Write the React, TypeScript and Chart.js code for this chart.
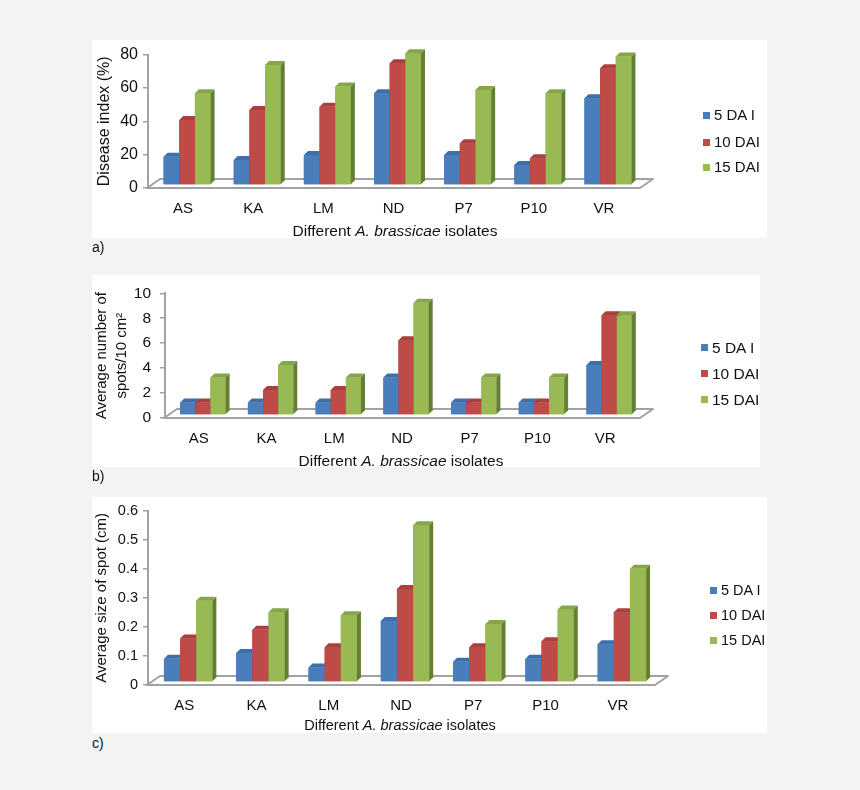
import React, { useEffect, useRef } from "react";
import { Chart, registerables } from "chart.js";

Chart.register(...registerables);

const FONT = "'Liberation Sans', Arial, Helvetica, sans-serif";
Chart.defaults.font.family = FONT;

// ---------- data ----------
const isolates = ["AS", "KA", "LM", "ND", "P7", "P10", "VR"];
const seriesLabels = ["5 DA I", "10 DAI", "15 DAI"];

const diseaseIndex5 = [17, 15, 18, 55, 18, 12, 52];
const diseaseIndex10 = [39, 45, 47, 73, 25, 16, 70];
const diseaseIndex15 = [55, 72, 59, 79, 57, 55, 77];

const spots5 = [1, 1, 1, 3, 1, 1, 4];
const spots10 = [1, 2, 2, 6, 1, 1, 8];
const spots15 = [3, 4, 3, 9, 3, 3, 8];

const spotSize5 = [0.08, 0.1, 0.05, 0.21, 0.07, 0.08, 0.13];
const spotSize10 = [0.15, 0.18, 0.12, 0.32, 0.12, 0.14, 0.24];
const spotSize15 = [0.28, 0.24, 0.23, 0.54, 0.2, 0.25, 0.39];

// ---------- styles ----------
const frontColors = ["#4a7ebb", "#be4b48", "#98b954"];
const topColors = ["#3f6ea8", "#a8403d", "#86a64a"];
const sideColors = ["#2f5487", "#80302e", "#637f33"];
const PAGE_BG = "#f3f3f3";
const AXIS_GRAY = "#a2a2a2";
const TEXT = "#111";

const BAR_DX = 4;
const BAR_DY = 4;
const SHIFT_X = 4;
const SHIFT_Y = -3;
const FLOOR_DX = 13;
const FLOOR_DY = 9;

const bar3d = {
  id: "bar3d",
  beforeDatasetsDraw(chart: any) {
    const { ctx, chartArea } = chart;
    const { left, right, bottom } = chartArea;
    ctx.save();
    ctx.beginPath();
    ctx.moveTo(left - 1, bottom);
    ctx.lineTo(right + 1, bottom);
    ctx.lineTo(right + 1 + FLOOR_DX, bottom - FLOOR_DY);
    ctx.lineTo(left - 1 + FLOOR_DX, bottom - FLOOR_DY);
    ctx.closePath();
    ctx.strokeStyle = AXIS_GRAY;
    ctx.lineWidth = 2;
    ctx.lineJoin = "round";
    ctx.stroke();
    ctx.restore();
  },
  beforeDatasetDraw(chart: any) {
    chart.ctx.save();
    chart.ctx.translate(SHIFT_X, SHIFT_Y);
  },
  afterDatasetDraw(chart: any) {
    chart.ctx.restore();
  },
  afterDatasetsDraw(chart: any) {
    const ctx = chart.ctx;
    ctx.save();
    ctx.translate(SHIFT_X, SHIFT_Y);
    const n = isolates.length;
    for (let j = 0; j < n; j++) {
      chart.data.datasets.forEach((ds: any, i: number) => {
        const meta = chart.getDatasetMeta(i);
        const el: any = meta.data[j];
        if (!el) return;
        const { x, y, base, width } = el.getProps(["x", "y", "base", "width"], true);
        const x0 = x - width / 2;
        const x1 = x + width / 2;
        ctx.fillStyle = ds.backgroundColor;
        ctx.fillRect(x0, y, width, base - y);
        ctx.beginPath();
        ctx.moveTo(x0, y);
        ctx.lineTo(x0 + BAR_DX, y - BAR_DY);
        ctx.lineTo(x1 + BAR_DX, y - BAR_DY);
        ctx.lineTo(x1, y);
        ctx.closePath();
        ctx.fillStyle = ds.topColor;
        ctx.fill();
        ctx.beginPath();
        ctx.moveTo(x1, y);
        ctx.lineTo(x1 + BAR_DX, y - BAR_DY);
        ctx.lineTo(x1 + BAR_DX, base - BAR_DY);
        ctx.lineTo(x1, base);
        ctx.closePath();
        ctx.fillStyle = ds.sideColor;
        ctx.fill();
      });
    }
    ctx.restore();
  },
};

type Spec = {
  left: number; top: number; width: number; height: number;
  padTop: number; padRight: number; yWidth: number; xHeight: number;
  yMax: number; yStep: number; yTickPad: number;
  yTitle: string | string[]; yTitlePad: number; yTitleLH: number; yTitleSize: number;
  tickSize: number; catSize: number; xTitleSize: number; legendSize: number;
  series: number[][];
  legendX: number; legendRows: number[];
  titleCx: number; titleCy: number;
  tag: string; tagY: number;
};

const panels: Spec[] = [
  {
    left: 92, top: 40, width: 675, height: 198,
    padTop: 11, padRight: 128, yWidth: 56, xHeight: 50,
    yMax: 80, yStep: 20, yTickPad: 5,
    yTitle: "Disease index (%)", yTitlePad: 3, yTitleLH: 1.2, yTitleSize: 16,
    tickSize: 16, catSize: 15, xTitleSize: 15.5, legendSize: 15,
    series: [diseaseIndex5, diseaseIndex10, diseaseIndex15],
    legendX: 703, legendRows: [115, 142, 167],
    titleCx: 395, titleCy: 231, tag: "a)", tagY: 247,
  },
  {
    left: 92, top: 275, width: 668, height: 192,
    padTop: 13, padRight: 121, yWidth: 73, xHeight: 49,
    yMax: 10, yStep: 2, yTickPad: 9,
    yTitle: ["Average number of", "spots/10 cm\u00b2"], yTitlePad: 0, yTitleLH: 20 / 15, yTitleSize: 15,
    tickSize: 15.5, catSize: 15, xTitleSize: 15.5, legendSize: 15.5,
    series: [spots5, spots10, spots15],
    legendX: 701, legendRows: [348, 374, 400],
    titleCx: 401, titleCy: 461, tag: "b)", tagY: 476,
  },
  {
    left: 92, top: 497, width: 675, height: 236,
    padTop: 11, padRight: 113, yWidth: 56, xHeight: 48,
    yMax: 0.6, yStep: 0.1, yTickPad: 5,
    yTitle: "Average size of spot (cm)", yTitlePad: 1, yTitleLH: 1.2, yTitleSize: 15,
    tickSize: 14.5, catSize: 15, xTitleSize: 14.5, legendSize: 14.5,
    series: [spotSize5, spotSize10, spotSize15],
    legendX: 710, legendRows: [590, 615, 640],
    titleCx: 400, titleCy: 725, tag: "c)", tagY: 743,
  },
];

function Panel({ spec }: { spec: Spec }) {
  const ref = useRef<HTMLCanvasElement | null>(null);
  useEffect(() => {
    const chart = new Chart(ref.current as HTMLCanvasElement, {
      type: "bar",
      data: {
        labels: isolates,
        datasets: spec.series.map((values, i) => ({
          label: seriesLabels[i],
          data: values,
          backgroundColor: frontColors[i],
          topColor: topColors[i],
          sideColor: sideColors[i],
          borderWidth: 0,
          categoryPercentage: 0.67,
          barPercentage: 1.0,
        })) as any,
      },
      options: {
        responsive: false,
        animation: false,
        events: [],
        layout: { padding: { top: spec.padTop, right: spec.padRight, left: 0, bottom: 0 } },
        plugins: { legend: { display: false }, tooltip: { enabled: false }, title: { display: false } },
        scales: {
          x: {
            grid: { display: false, drawTicks: false },
            border: { display: false },
            ticks: {
              color: TEXT,
              font: { size: spec.catSize, family: FONT },
              padding: 12,
              maxRotation: 0,
              autoSkip: false,
            },
            afterFit: (scale: any) => {
              scale.height = spec.xHeight;
            },
          },
          y: {
            min: 0,
            max: spec.yMax,
            grid: {
              display: true,
              drawOnChartArea: false,
              drawTicks: true,
              tickLength: 5,
              color: AXIS_GRAY,
              lineWidth: 1.5,
            },
            border: { display: true, color: AXIS_GRAY, width: 2 },
            ticks: {
              stepSize: spec.yStep,
              color: TEXT,
              font: { size: spec.tickSize, family: FONT },
              padding: spec.yTickPad,
            },
            title: {
              display: true,
              text: spec.yTitle,
              color: TEXT,
              font: { size: spec.yTitleSize, family: FONT, lineHeight: spec.yTitleLH },
              padding: { top: spec.yTitlePad, bottom: 0 },
            },
            afterFit: (scale: any) => {
              scale.width = spec.yWidth;
            },
          },
        },
      } as any,
      plugins: [bar3d],
    });
    return () => chart.destroy();
  }, []);

  const textStyle: React.CSSProperties = {
    position: "absolute",
    fontFamily: FONT,
    fontSize: 14,
    color: TEXT,
    lineHeight: "16px",
    whiteSpace: "nowrap",
  };

  return (
    <>
      <div
        style={{
          position: "absolute",
          left: spec.left,
          top: spec.top,
          width: spec.width,
          height: spec.height,
          background: "#ffffff",
        }}
      >
        <canvas ref={ref} width={spec.width} height={spec.height} style={{ display: "block" }} />
      </div>
      <div
        style={{
          ...textStyle,
          fontSize: spec.xTitleSize,
          left: spec.titleCx - 200,
          width: 400,
          textAlign: "center",
          top: spec.titleCy - 8,
        }}
      >
        Different <i>A. brassicae</i> isolates
      </div>
      <div style={{ ...textStyle, left: spec.left, top: spec.tagY - 8 }}>{spec.tag}</div>
      {seriesLabels.map((lab, i) => (
        <div
          key={lab}
          style={{ ...textStyle, fontSize: spec.legendSize, left: spec.legendX, top: spec.legendRows[i] - 8, height: 16 }}
        >
          <span
            style={{
              display: "inline-block",
              width: 7,
              height: 7,
              background: frontColors[i],
              marginRight: 4,
              verticalAlign: "middle",
              position: "relative",
              top: -1,
            }}
          />
          {lab}
        </div>
      ))}
    </>
  );
}

export default function App() {
  return (
    <div
      style={{
        position: "absolute",
        left: 0,
        top: 0,
        width: 860,
        height: 790,
        background: PAGE_BG,
        overflow: "hidden",
      }}
    >
      {panels.map((p) => (
        <Panel key={p.tag} spec={p} />
      ))}
    </div>
  );
}
